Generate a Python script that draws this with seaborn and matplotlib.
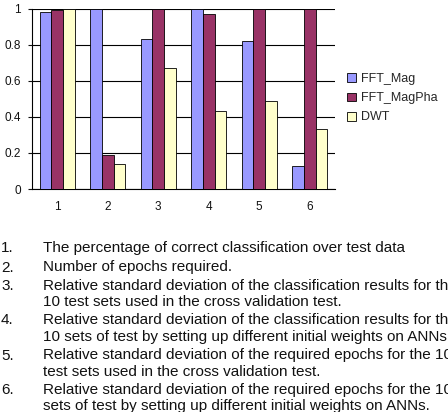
import matplotlib
matplotlib.use("Agg")
import matplotlib.pyplot as plt
import seaborn as sns
import pandas as pd
import numpy as np

categories = ["1", "2", "3", "4", "5", "6"]
fft_mag = [0.98, 1.00, 0.83, 1.00, 0.82, 0.13]
fft_magpha = [0.99, 0.19, 1.00, 0.97, 1.00, 1.00]
dwt = [1.00, 0.14, 0.67, 0.43, 0.49, 0.33]
series_names = ["FFT_Mag", "FFT_MagPha", "DWT"]
series_colors = ["#9999FF", "#993366", "#FFFFCC"]
yticks = [0, 0.2, 0.4, 0.6, 0.8, 1]
ytick_labels = ["0", "0.2", "0.4", "0.6", "0.8", "1"]
notes = [
    ("1.", ["The percentage of correct classification over test data"]),
    ("2.", ["Number of epochs required."]),
    ("3.", ["Relative standard deviation of the classification results for the",
            "10 test sets used in the cross validation test."]),
    ("4.", ["Relative standard deviation of the classification results for the",
            "10 sets of test by setting up different initial weights on ANNs."]),
    ("5.", ["Relative standard deviation of the required epochs for the 10",
            "test sets used in the cross validation test."]),
    ("6.", ["Relative standard deviation of the required epochs for the 10",
            "sets of test by setting up different initial weights on ANNs."]),
]

df = pd.DataFrame({
    "cat": categories * 3,
    "value": fft_mag + fft_magpha + dwt,
    "series": [s for s in series_names for _ in categories],
})

sns.set_style("white")
plt.rcParams["font.family"] = ["Liberation Sans", "DejaVu Sans"]

W, H = 448, 412
fig = plt.figure(figsize=(W / 100, H / 100), dpi=100)
ax = fig.add_axes([32 / W, 1 - 189 / H, (335 - 32) / W, (189 - 8.5) / H])

sns.barplot(data=df, x="cat", y="value", hue="series", order=categories,
            hue_order=series_names, palette=series_colors, width=0.7, gap=0,
            edgecolor="black", linewidth=0.6, saturation=1, ax=ax, legend=True,
            zorder=3)

ax.set_ylim(0, 1)
ax.set_xlim(-0.5, 5.5)
ax.set_yticks(yticks)
ax.set_yticklabels(ytick_labels)
ax.yaxis.grid(True, color="black", linewidth=0.8, zorder=0)
ax.set_axisbelow(True)
ax.set_xlabel("")
ax.set_ylabel("")
for s in ["top", "right"]:
    ax.spines[s].set_visible(False)
for s in ["left", "bottom"]:
    ax.spines[s].set_color("black")
    ax.spines[s].set_linewidth(0.8)

ax.set_xticks(np.arange(len(categories)))
ax.set_xticklabels(categories)
ax.set_xticks(np.arange(-0.5, len(categories)), minor=True)
ax.tick_params(axis="x", which="major", length=0, pad=9, labelsize=8.5, colors="#111111")
ax.tick_params(axis="x", which="minor", length=3, width=0.8, direction="out", color="black")
ax.tick_params(axis="y", which="major", length=3, width=0.8, direction="out",
               pad=5, labelsize=8.5, colors="#111111", left=True)

handles, labels = ax.get_legend_handles_labels()
ax.legend(handles, labels, loc="upper left", bbox_to_anchor=(347 / W, 1 - 73 / H),
          bbox_transform=fig.transFigure, frameon=False, fontsize=9,
          handlelength=0.7, handleheight=0.7, handletextpad=0.4, labelspacing=0.58,
          borderaxespad=0, borderpad=0)

line_ys = [[248], [267.5], [285.5, 302], [320, 336.5], [355.5, 372.5], [390, 406]]
for (num, lines), ys in zip(notes, line_ys):
    fig.text(1 / W, 1 - ys[0] / H, num, ha="left", va="center", fontsize=11, color="#111111")
    for ln, y in zip(lines, ys):
        fig.text(43 / W, 1 - y / H, ln, ha="left", va="center", fontsize=11, color="#111111")

fig.savefig("out.png", dpi=100)
